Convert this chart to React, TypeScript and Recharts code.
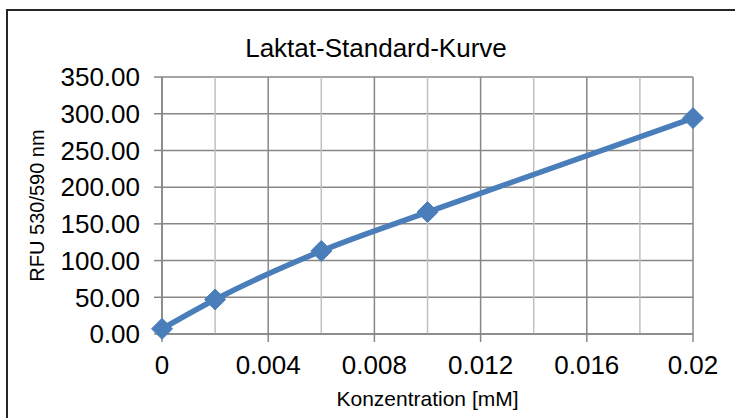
import { LineChart, Line, XAxis, YAxis, CartesianGrid, ReferenceLine } from "recharts";

const concentrations = [0, 0.002, 0.006, 0.01, 0.02];
const rfu = [7, 47, 113, 166, 294];
const xMajorTicks = [0, 0.004, 0.008, 0.012, 0.016, 0.02];
const xMinorTicks = [0.002, 0.006, 0.01, 0.014, 0.018];
const yTicks = [0, 50, 100, 150, 200, 250, 300, 350];

const data = concentrations.map((c, i) => ({ c, rfu: rfu[i] }));

const FONT = "'Liberation Sans', Arial, sans-serif";
const BLUE = "#4a7ebb";
const GRID = "#878787";

function Diamond(props: any) {
  const { cx, cy } = props;
  if (cx == null || cy == null) return null;
  const r = 10.5;
  return (
    <path
      d={`M${cx},${cy - r} L${cx + r},${cy} L${cx},${cy + r} L${cx - r},${cy} Z`}
      fill={BLUE}
      stroke={BLUE}
      strokeWidth={1}
    />
  );
}

export default function App() {
  return (
    <div
      style={{
        position: "fixed",
        left: 0,
        top: 0,
        width: 735,
        height: 418,
        overflow: "hidden",
        background: "#fff",
        fontFamily: FONT,
      }}
    >
      <div
        style={{
          position: "absolute",
          left: 0,
          width: 752,
          top: 33,
          textAlign: "center",
          fontSize: 26,
          color: "#000",
        }}
      >
        Laktat-Standard-Kurve
      </div>
      <div style={{ position: "absolute", left: 0, top: 0 }}>
        <LineChart
          width={735}
          height={418}
          data={data}
          margin={{ top: 77, right: 42, left: 0, bottom: 0 }}
        >
          <CartesianGrid stroke={GRID} strokeWidth={1.5} vertical={true} horizontal={true} />
          {xMinorTicks.map((t) => (
            <ReferenceLine key={t} x={t} stroke="#c0c0c0" strokeWidth={1.5} />
          ))}
          <XAxis
            dataKey="c"
            type="number"
            domain={[0, 0.02]}
            ticks={xMajorTicks}
            tickFormatter={(v) => String(v)}
            height={84}
            axisLine={{ stroke: GRID, strokeWidth: 1.5 }}
            tickLine={{ stroke: GRID, strokeWidth: 1.5 }}
            tickSize={8}
            tickMargin={14}
            tick={{ fill: "#000", fontSize: 26, fontFamily: FONT }}
            label={{
              value: "Konzentration [mM]",
              position: "insideBottom",
              offset: 12,
              fill: "#000",
              fontSize: 21,
              fontFamily: FONT,
            }}
          />
          <YAxis
            type="number"
            domain={[0, 350]}
            ticks={yTicks}
            tickFormatter={(v) => Number(v).toFixed(2)}
            width={162}
            axisLine={{ stroke: GRID, strokeWidth: 1.5 }}
            tickLine={{ stroke: GRID, strokeWidth: 1.5 }}
            tickSize={8}
            tickMargin={14}
            tick={{ fill: "#000", fontSize: 26, fontFamily: FONT }}
            label={{
              value: "RFU 530/590 nm",
              angle: -90,
              position: "insideLeft",
              offset: 37,
              fill: "#000",
              fontSize: 20,
              fontFamily: FONT,
              style: { textAnchor: "middle" },
            }}
          />
          <Line
            type="monotone"
            dataKey="rfu"
            stroke={BLUE}
            strokeWidth={5.5}
            dot={<Diamond />}
            activeDot={false}
            isAnimationActive={false}
          />
        </LineChart>
      </div>
      {/* Rahmen: nur oben und links sichtbar */}
      <div style={{ position: "absolute", left: 6, top: 9, width: 729, height: 2, background: "#262626" }} />
      <div style={{ position: "absolute", left: 6, top: 9, width: 2, height: 409, background: "#262626" }} />
    </div>
  );
}
